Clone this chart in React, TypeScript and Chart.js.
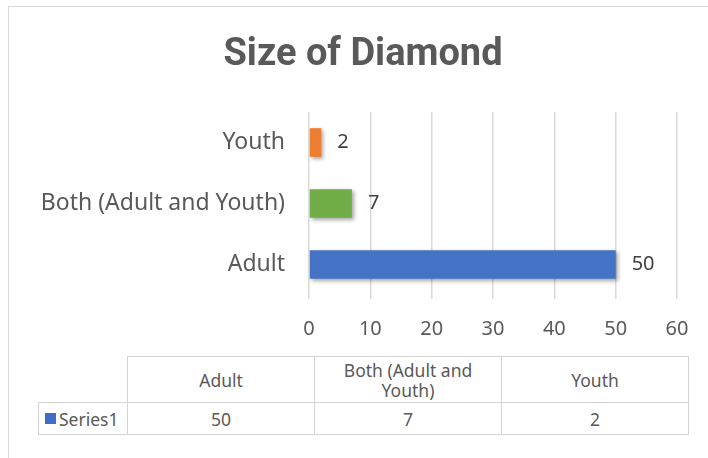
import React, { useEffect, useRef } from "react";
import { Chart, registerables } from "chart.js";

Chart.register(...registerables);

const categories = ["Adult", "Both (Adult and Youth)", "Youth"];
const values = [50, 7, 2];
const seriesName = "Series1";
const tableHeaders = ["Adult", "Both (Adult and Youth)", "Youth"];
const xTicks = [0, 10, 20, 30, 40, 50, 60];
const barColors = ["#4472c4", "#70ad47", "#ed7d31"];
const title = "Size of Diamond";

const TEXT = "#595959";
const GRID = "#d9d9d9";
const LABEL_FONT = "'Noto Sans', sans-serif";

export default function App() {
  const ref = useRef<HTMLCanvasElement | null>(null);

  useEffect(() => {
    if (!ref.current) return;
    const shadowPlugin = {
      id: "barShadow",
      beforeDatasetsDraw(chart: any) {
        const c = chart.ctx;
        c.save();
        c.shadowColor = "rgba(0,0,0,0.35)";
        c.shadowBlur = 4;
        c.shadowOffsetX = 2;
        c.shadowOffsetY = 2;
      },
      afterDatasetsDraw(chart: any) {
        chart.ctx.restore();
        const c = chart.ctx;
        const meta = chart.getDatasetMeta(0);
        c.save();
        c.font = "20px " + LABEL_FONT;
        c.fillStyle = "#404040";
        c.textAlign = "left";
        c.textBaseline = "middle";
        meta.data.forEach((bar: any, i: number) => {
          c.fillText(String(values[i]), bar.x + 16, bar.y);
        });
        c.restore();
      },
    };

    const chart = new Chart(ref.current, {
      type: "bar",
      data: {
        labels: categories,
        datasets: [
          {
            label: seriesName,
            data: values,
            backgroundColor: (ctx: any) => {
              const i = ctx.dataIndex;
              if (i === 0 && ctx.chart.chartArea) {
                const el = ctx.chart.getDatasetMeta(0).data[0];
                if (el && isFinite(el.y)) {
                  const g = ctx.chart.ctx.createLinearGradient(0, el.y - 14, 0, el.y + 14);
                  g.addColorStop(0, "#5b86d6");
                  g.addColorStop(1, "#2e5fb9");
                  return g;
                }
              }
              return barColors[i];
            },
            borderWidth: 0,
            barPercentage: 0.94,
            categoryPercentage: 0.5,
          },
        ],
      },
      options: {
        indexAxis: "y",
        animation: false,
        responsive: false,
        maintainAspectRatio: false,
        layout: { padding: { left: 0, right: 31, top: 112, bottom: 99 } },
        plugins: {
          legend: { display: false },
          tooltip: { enabled: false },
          title: { display: false },
        },
        scales: {
          x: {
            min: 0,
            max: 60,
            afterBuildTicks: (axis: any) => {
              axis.ticks = xTicks.map((v) => ({ value: v }));
            },
            grid: { color: GRID, lineWidth: 1.5, drawTicks: true, tickLength: 4 },
            border: { display: false },
            ticks: { color: TEXT, font: { family: LABEL_FONT, size: 20 }, padding: 18 },
          },
          y: {
            reverse: true,
            afterFit: (axis: any) => {
              axis.width = 309;
            },
            grid: { display: false },
            border: { display: false },
            ticks: { color: TEXT, font: { family: LABEL_FONT, size: 23 }, padding: 16 },
          },
        },
      },
      plugins: [shadowPlugin],
    });
    return () => chart.destroy();
  }, []);

  const cell: React.CSSProperties = {
    position: "absolute",
    boxSizing: "border-box",
    border: "1px solid #d4d4d4",
    display: "flex",
    alignItems: "center",
    justifyContent: "center",
    textAlign: "center",
    color: TEXT,
    fontFamily: LABEL_FONT,
    fontSize: 17.5,
    lineHeight: "20px",
    background: "#fff",
  };
  const cols = [127, 314, 501, 688];

  return (
    <div style={{ position: "fixed", left: 0, top: 0, width: 708, height: 458, background: "#fff", overflow: "hidden" }}>
      <div style={{ position: "absolute", left: 8, top: 6, width: 760, height: 520, border: "1px solid #d9d9d9", boxSizing: "border-box" }} />
      <canvas ref={ref} width={708} height={458} style={{ position: "absolute", left: 0, top: 0, width: 708, height: 458 }} />
      <div
        style={{
          position: "absolute",
          left: 163,
          width: 400,
          top: 28,
          height: 48,
          lineHeight: "48px",
          textAlign: "center",
          fontFamily: "Roboto, sans-serif",
          fontWeight: "bold",
          fontSize: 38,
          color: TEXT,
          whiteSpace: "nowrap",
        }}
      >
        {title}
      </div>
      {tableHeaders.map((h, i) => (
        <div key={"h" + i} style={{ ...cell, left: cols[i], top: 356, width: cols[i + 1] - cols[i] + 1, height: 47, padding: "0 20px" }}>
          {h}
        </div>
      ))}
      <div style={{ ...cell, left: 38, top: 402, width: 90, height: 33, justifyContent: "flex-start", paddingLeft: 6 }}>
        <span style={{ display: "inline-block", width: 11, height: 11, background: "#3f6cc4", marginRight: 3 }} />
        {seriesName}
      </div>
      {values.map((v, i) => (
        <div key={"v" + i} style={{ ...cell, left: cols[i], top: 402, width: cols[i + 1] - cols[i] + 1, height: 33 }}>
          {v}
        </div>
      ))}
    </div>
  );
}
